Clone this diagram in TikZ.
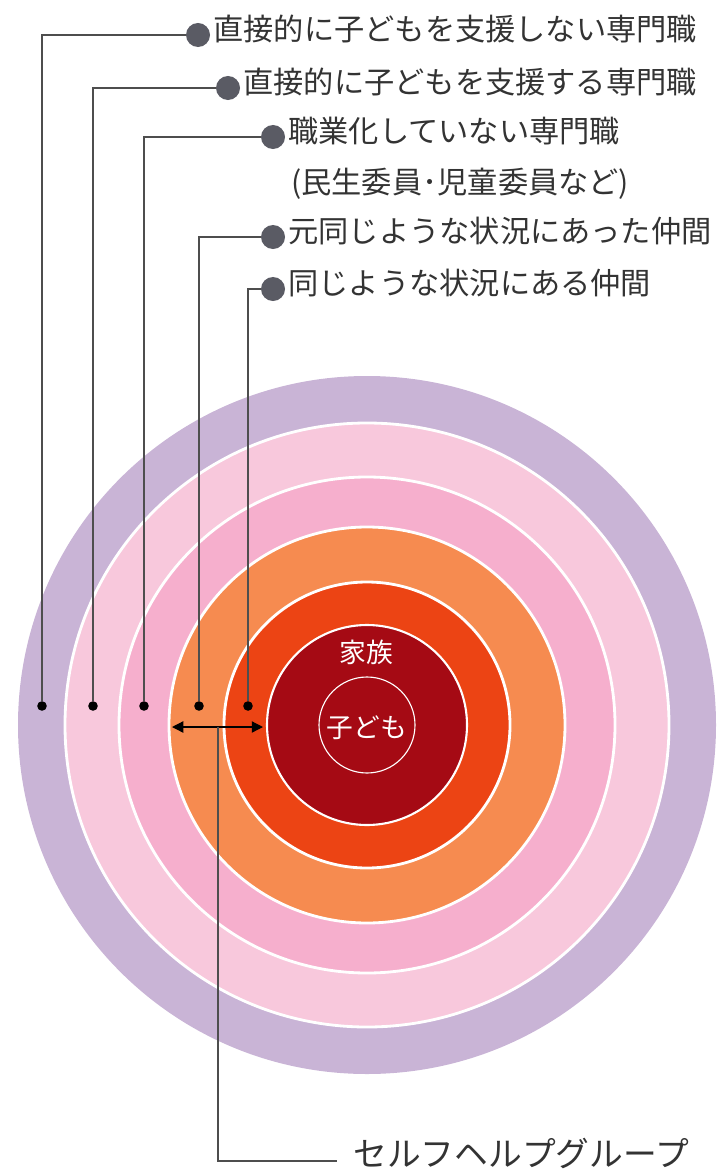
\documentclass[tikz,border=0pt]{standalone}
\usepackage{fontspec}
\newfontfamily\jp{Noto Sans CJK JP}
\usetikzlibrary{arrows.meta,positioning}

\definecolor{viola}{HTML}{C9B4D6}
\definecolor{rosachiaro}{HTML}{F8C8DC}
\definecolor{rosa}{HTML}{F6AFCD}
\definecolor{arancio}{HTML}{F68B50}
\definecolor{rossoarancio}{HTML}{EC4414}
\definecolor{bordeaux}{HTML}{A50A14}
\definecolor{grigio}{HTML}{5A5B64}
\definecolor{filogrigio}{HTML}{4E4E4E}
\definecolor{testo}{HTML}{333333}

\tikzset{
  etichetta/.style={anchor=west,inner sep=0pt,text=testo,
    font=\jp\fontsize{21.5}{26}\selectfont,text height=.8em,text depth=.06em},
  pallino/.style={circle,fill=grigio,inner sep=0pt,minimum size=.6cm},
  puntino/.style={circle,fill=black,inner sep=0pt,minimum size=.24cm},
  filo/.style={filogrigio,line width=1.2pt},
  anello/.style={white,line width=2pt}
}

\begin{document}
\begin{tikzpicture}[x=.025cm,y=-.025cm]
\useasboundingbox (0,0) rectangle (718,1170);

\begin{scope}
\pgfmathsetmacro{\raggioa}{349}
\pgfmathsetmacro{\raggiob}{302}
\pgfmathsetmacro{\raggioc}{248}
\pgfmathsetmacro{\raggiod}{198}
\pgfmathsetmacro{\raggioe}{143}
\pgfmathsetmacro{\raggiof}{100}
\pgfmathsetmacro{\raggiog}{48}
\coordinate (o) at (367,725);

\fill[viola] (o) circle (\raggioa);
\draw[anello, fill=rosachiaro] (o) circle (\raggiob);
\draw[anello, fill=rosa] (o) circle (\raggioc);
\draw[anello, fill=arancio] (o) circle (\raggiod);
\draw[anello, fill=rossoarancio] (o) circle (\raggioe);
\draw[anello, line width=1.5pt, fill=bordeaux] (o) circle (\raggiof);
\draw[white, line width=.8pt] (o) circle (\raggiog);

\node[white, font=\jp\fontsize{19}{22}\selectfont] (famiglia) at (366,652) {家族};
\node[white, font=\jp\fontsize{19}{22}\selectfont] (bambino) at (367,728) {子ども};
\end{scope}

\node[pallino] (p1) at (198,35) {};
\node[pallino] (p2) at (228,88) {};
\node[pallino] (p3) at (273,137) {};
\node[pallino] (p4) at (273,237) {};
\node[pallino] (p5) at (273,289) {};

\node[etichetta, right=.07cm of p1] (t1) {直接的に子どもを支援しない専門職};
\node[etichetta, right=.07cm of p2] (t2) {直接的に子どもを支援する専門職};
\node[etichetta, right=.07cm of p3] (t3) {職業化していない専門職};
\node[etichetta] (t3b) at (291,188) {(民生委員･児童委員など)};
\node[etichetta, right=.07cm of p4] (t4) {元同じような状況にあった仲間};
\node[etichetta, right=.07cm of p5] (t5) {同じような状況にある仲間};

\node[puntino] (d1) at (42,706) {};
\node[puntino] (d2) at (93,706) {};
\node[puntino] (d3) at (144,706) {};
\node[puntino] (d4) at (199,706) {};
\node[puntino] (d5) at (248,706) {};

\draw[filo] (p1) -| (d1);
\draw[filo] (p2) -| (d2);
\draw[filo] (p3) -| (d3);
\draw[filo] (p4) -| (d4);
\draw[filo] (p5) -| (d5);

\coordinate (fa) at (172,727);
\coordinate (fb) at (263,727);
\coordinate (fm) at (218,727);
\draw[black, line width=.9pt, {Triangle[length=8pt,width=8pt]}-{Triangle[length=8pt,width=8pt]}] (fa) -- (fb);

\coordinate (fine) at (337,1161);
\node[etichetta, font=\jp\fontsize{24}{28}\selectfont, right=.4cm of fine] (gruppo) {セルフヘルプグループ};
\draw[filo] (fm) |- (fine);

\end{tikzpicture}
\end{document}
